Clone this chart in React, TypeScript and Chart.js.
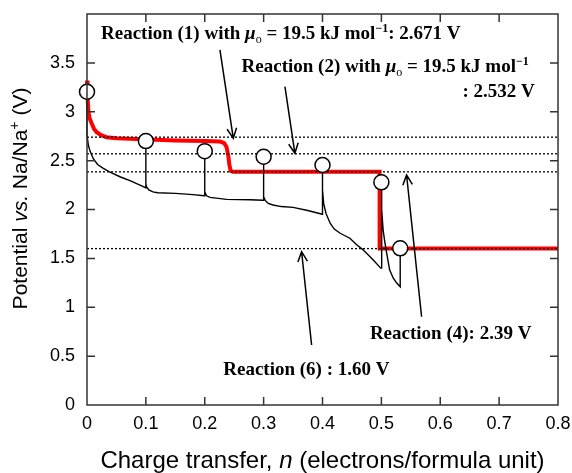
import React, { useEffect, useRef } from "react";
import { Chart, registerables } from "chart.js";

Chart.register(...registerables);

// ---- data (charge transfer n, potential V vs Na/Na+) ----
const redN = [0, 0.001, 0.0023, 0.004, 0.008, 0.012, 0.0165, 0.024, 0.033, 0.05, 0.084, 0.15, 0.2, 0.226, 0.233, 0.237, 0.24, 0.242, 0.244, 0.248, 0.4, 0.497, 0.497, 0.8];
const redV = [3.32, 3.15, 3.015, 2.94, 2.88, 2.825, 2.79, 2.76, 2.74, 2.73, 2.72, 2.707, 2.7, 2.695, 2.68, 2.64, 2.55, 2.45, 2.395, 2.385, 2.385, 2.385, 1.6, 1.6];

const blackN = [
  0, 0, 0.0023, 0.005, 0.0107, 0.018, 0.0277, 0.04, 0.056, 0.075, 0.0956, 0.1,
  0.1, 0.1, 0.101, 0.105, 0.112, 0.12, 0.15, 0.18, 0.199, 0.2,
  0.2, 0.2, 0.203, 0.209, 0.237, 0.277, 0.299, 0.3,
  0.3, 0.3, 0.303, 0.3078, 0.316, 0.33, 0.35, 0.375, 0.398, 0.4,
  0.4, 0.4, 0.402, 0.406, 0.413, 0.42, 0.43, 0.4465, 0.458, 0.469, 0.485, 0.499, 0.5,
  0.5, 0.501, 0.503, 0.506, 0.509, 0.514, 0.52, 0.526, 0.532, 0.532,
];
const blackV = [
  3.2, 2.76, 2.66, 2.6, 2.52, 2.46, 2.42, 2.38, 2.335, 2.29, 2.233, 2.22,
  2.7, 2.26, 2.235, 2.2, 2.18, 2.172, 2.165, 2.152, 2.14, 2.14,
  2.597, 2.18, 2.14, 2.124, 2.104, 2.1, 2.095, 2.095,
  2.54, 2.13, 2.09, 2.063, 2.046, 2.03, 2.022, 1.99, 1.954, 1.95,
  2.455, 2.2, 2.06, 1.96, 1.86, 1.8, 1.757, 1.706, 1.64, 1.587, 1.49, 1.4, 1.4,
  2.278, 2.0, 1.79, 1.66, 1.553, 1.383, 1.3, 1.247, 1.21, 1.603,
];

const ocvN = [0, 0.1, 0.2, 0.3, 0.4, 0.5, 0.532];
const ocvV = [3.205, 2.7, 2.597, 2.54, 2.455, 2.278, 1.603];

const levelV = [2.74, 2.57, 2.385, 1.6];

const xMin = 0;
const xMax = 0.8;
const xStep = 0.1;
const yMin = 0;
const yMax = 4;
const yStep = 0.5;

// ---- styling ----
const SERIF = '"Liberation Serif", "Times New Roman", serif';
const SANS = '"Liberation Sans", Arial, sans-serif';
const B = `bold 19px ${SERIF}`;
const BI = `italic bold 19px ${SERIF}`;
const SUB = `12px ${SERIF}`;
const SUP = `bold 12px ${SERIF}`;

type Run = [string, string, number?];

// annotation anchors in data units
const notes: { n: number; v: number; align: "left" | "right"; runs: Run[] }[] = [
  { n: 0.0238, v: 3.749, align: "left", runs: [["Reaction (1) with ", B], ["\u03BC", BI], ["o", SUB, 4], [" = 19.5 kJ mol", B], ["\u22121", SUP, -7], [": 2.671 V", B]] },
  { n: 0.2626, v: 3.407, align: "left", runs: [["Reaction (2) with ", B], ["\u03BC", BI], ["o", SUB, 4], [" = 19.5 kJ mol", B], ["\u22121", SUP, -7]] },
  { n: 0.7606, v: 3.151, align: "right", runs: [[": 2.532 V", B]] },
  { n: 0.4805, v: 0.68, align: "left", runs: [["Reaction (4): 2.39 V", B]] },
  { n: 0.2314, v: 0.307, align: "left", runs: [["Reaction (6) : 1.60 V", B]] },
];

const arrows = [
  { from: [0.2258, 3.632], to: [0.2485, 2.728] },
  { from: [0.3362, 3.256], to: [0.3531, 2.575] },
  { from: [0.5683, 0.903], to: [0.5428, 2.353] },
  { from: [0.3815, 0.614], to: [0.3645, 1.568] },
];

const zip = (a: number[], b: number[]) => a.map((v, i) => ({ x: v, y: b[i] }));

function drawRuns(ctx: CanvasRenderingContext2D, runs: Run[], x: number, y: number, align: "left" | "right" | "center") {
  const widths = runs.map((r) => {
    ctx.font = r[1];
    return ctx.measureText(r[0]).width;
  });
  const total = widths.reduce((s, w) => s + w, 0);
  let cx = align === "left" ? x : align === "right" ? x - total : x - total / 2;
  ctx.textAlign = "left";
  ctx.textBaseline = "alphabetic";
  runs.forEach((r, i) => {
    ctx.font = r[1];
    ctx.fillText(r[0], cx, y + (r[2] || 0));
    cx += widths[i];
  });
}

const decor = {
  id: "decor",
  afterDatasetsDraw(chart: any) {
    const { ctx, chartArea: a, scales } = chart;
    const xs = scales.x;
    const ys = scales.y;
    ctx.save();
    ctx.strokeStyle = "#333";
    ctx.lineWidth = 1.5;
    ctx.lineCap = "butt";
    ctx.strokeRect(a.left, a.top, a.right - a.left, a.bottom - a.top);
    const tl = 8;
    ctx.beginPath();
    xs.ticks.forEach((t: any) => {
      const p = xs.getPixelForValue(t.value);
      if (p <= a.left + 1 || p >= a.right - 1) return;
      ctx.moveTo(p, a.bottom);
      ctx.lineTo(p, a.bottom - tl);
      ctx.moveTo(p, a.top);
      ctx.lineTo(p, a.top + tl);
    });
    ys.ticks.forEach((t: any) => {
      const p = ys.getPixelForValue(t.value);
      if (p <= a.top + 1 || p >= a.bottom - 1) return;
      ctx.moveTo(a.left, p);
      ctx.lineTo(a.left + tl, p);
      ctx.moveTo(a.right, p);
      ctx.lineTo(a.right - tl, p);
    });
    ctx.stroke();

    // arrows
    ctx.strokeStyle = "#000";
    ctx.lineWidth = 1.5;
    arrows.forEach((ar) => {
      const x0 = xs.getPixelForValue(ar.from[0]);
      const y0 = ys.getPixelForValue(ar.from[1]);
      const x1 = xs.getPixelForValue(ar.to[0]);
      const y1 = ys.getPixelForValue(ar.to[1]);
      const ang = Math.atan2(y1 - y0, x1 - x0);
      const hl = 11;
      const ha = 0.45;
      ctx.beginPath();
      ctx.moveTo(x0, y0);
      ctx.lineTo(x1, y1);
      ctx.moveTo(x1 - hl * Math.cos(ang - ha), y1 - hl * Math.sin(ang - ha));
      ctx.lineTo(x1, y1);
      ctx.lineTo(x1 - hl * Math.cos(ang + ha), y1 - hl * Math.sin(ang + ha));
      ctx.stroke();
    });

    // annotation texts
    ctx.fillStyle = "#000";
    notes.forEach((nt) => {
      drawRuns(ctx, nt.runs, xs.getPixelForValue(nt.n), ys.getPixelForValue(nt.v), nt.align);
    });

    // axis titles
    const cx = (a.left + a.right) / 2;
    drawRuns(ctx, [["Charge transfer, ", `24px ${SANS}`], ["n", `italic 24px ${SANS}`], [" (electrons/formula unit)", `24px ${SANS}`]], cx, 468, "center");
    ctx.save();
    ctx.translate(27, (a.top + a.bottom) / 2 - 11);
    ctx.rotate(-Math.PI / 2);
    drawRuns(ctx, [["Potential ", `21px ${SANS}`], ["vs.", `italic 21px ${SANS}`], [" Na/Na", `21px ${SANS}`], ["+", `14px ${SANS}`, -8], [" (V)", `21px ${SANS}`]], 0, 0, "center");
    ctx.restore();
    ctx.restore();
  },
};

export default function App() {
  const ref = useRef<HTMLCanvasElement | null>(null);
  useEffect(() => {
    document.body.style.margin = "0";
    const canvas = ref.current;
    if (!canvas) return;
    const chart = new Chart(canvas, {
      type: "line",
      data: {
        datasets: [
          { label: "OCV", data: zip(ocvN, ocvV), showLine: false, pointRadius: 7.5, pointBackgroundColor: "#fff", pointBorderColor: "#000", pointBorderWidth: 1.5, borderColor: "#000", order: 0, clip: false } as any,
          ...levelV.map((v) => ({ label: "level", data: [{ x: xMin, y: v }, { x: xMax, y: v }], borderColor: "#000", borderWidth: 1.3, borderDash: [2, 2], pointRadius: 0, order: 1 })),
          { label: "GITT", data: zip(blackN, blackV), borderColor: "#000", borderWidth: 1.4, pointRadius: 0, order: 2, clip: false } as any,
          { label: "Equilibrium", data: zip(redN, redV), borderColor: "#ff0000", borderWidth: 4, pointRadius: 0, order: 3, clip: false } as any,
        ],
      },
      options: {
        animation: false,
        responsive: false,
        devicePixelRatio: 1,
        events: [],
        layout: { padding: { top: 14, right: 14, left: 0, bottom: 0 } },
        plugins: { legend: { display: false }, tooltip: { enabled: false } },
        scales: {
          x: {
            type: "linear",
            min: xMin,
            max: xMax,
            grid: { display: false, drawTicks: false },
            border: { display: false },
            ticks: { stepSize: xStep, padding: 8, color: "#000", font: { family: SANS, size: 18 }, maxRotation: 0, autoSkip: false },
            afterFit: (s: any) => {
              s.height = 68;
              s.paddingLeft = 0;
              s.paddingRight = 0;
            },
          },
          y: {
            type: "linear",
            min: yMin,
            max: yMax,
            grid: { display: false, drawTicks: false },
            border: { display: false },
            ticks: {
              stepSize: yStep,
              padding: 12,
              color: "#000",
              font: { family: SANS, size: 18 },
              autoSkip: false,
              callback: (v: any) => (v >= yMax ? "" : String(Math.round(v * 10) / 10)),
            },
            afterFit: (s: any) => {
              s.width = 87;
              s.paddingTop = 0;
              s.paddingBottom = 0;
            },
          },
        },
      } as any,
      plugins: [decor],
    });
    return () => chart.destroy();
  }, []);
  return <canvas ref={ref} width={572} height={473} style={{ display: "block" }} />;
}
